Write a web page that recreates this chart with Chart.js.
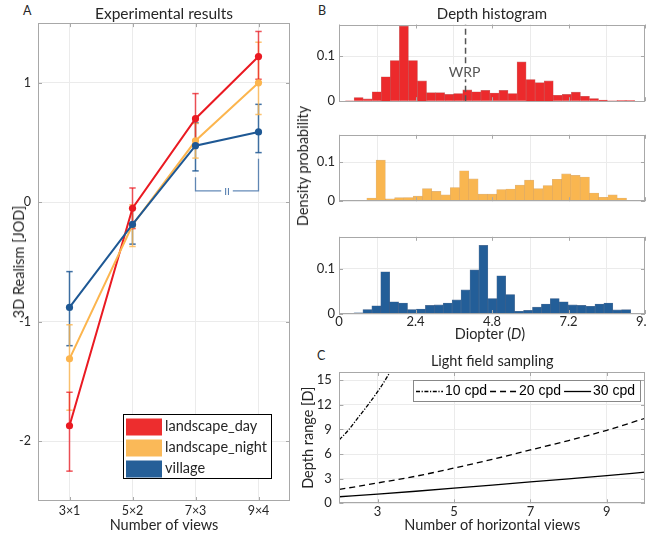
<!DOCTYPE html>
<html><head><meta charset="utf-8">
<script src="https://cdn.jsdelivr.net/npm/chart.js@4.4.0/dist/chart.umd.min.js"></script>
<style>
html,body{margin:0;padding:0;background:#fff;width:647px;height:539px;overflow:hidden;position:relative;}
canvas{position:absolute;}
.lab{position:absolute;font:12.5px Lato,sans-serif;line-height:12.5px;color:#262626;}
.rot{position:absolute;white-space:nowrap;font:14.5px Lato,sans-serif;line-height:16px;color:#262626;transform:translate(-50%,-50%) rotate(-90deg);}
</style></head><body>
<div class="lab" style="left:23px;top:5px">A</div>
<div class="lab" style="left:318px;top:5px">B</div>
<div class="lab" style="left:317px;top:350px">C</div>
<canvas id="cA" width="300" height="539" style="left:0;top:0"></canvas>
<canvas id="cB1" width="368" height="113" style="left:292px;top:0"></canvas>
<canvas id="cB2" width="368" height="90" style="left:292px;top:123px"></canvas>
<canvas id="cB3" width="368" height="125" style="left:292px;top:225px"></canvas>
<canvas id="cC" width="368" height="194" style="left:292px;top:345px"></canvas>
<div class="rot" style="left:303px;top:166px">Density probability</div>
<div class="rot" style="left:18.5px;top:262px">3D Realism [JOD]</div>
<script>
// ---------------- Panel A data ----------------
const viewLabels = ['3×1', '5×2', '7×3', '9×4'];
const viewPos = [1, 2, 3, 4];
const seriesNames = ['landscape_day', 'landscape_night', 'village'];
const dayMean = [-1.87, -0.05, 0.70, 1.22];
const dayLow = [-2.25, -0.22, 0.49, 1.03];
const dayHigh = [-1.59, 0.12, 0.91, 1.43];
const nightMean = [-1.31, -0.19, 0.515, 1.00];
const nightLow = [-1.74, -0.37, 0.37, 0.735];
const nightHigh = [-1.025, -0.02, 0.66, 1.34];
const villageMean = [-0.88, -0.185, 0.474, 0.589];
const villageLow = [-1.20, -0.35, 0.263, 0.416];
const villageHigh = [-0.58, -0.05, 0.665, 0.82];
const realismTicks = [-2, -1, 0, 1];
const bracketX = [3, 3, 4, 4];
const bracketY = [0.21, 0.095, 0.095, 0.365];
const bracketText = 'II';

// ---------------- Panel B data ----------------
const diopterTicks = [0, 2.4, 4.8, 7.2, 9.6];
const densityTicks = [0, 0.1];
const dayBins = [0.332,0.616,0.900,1.184,1.468,1.752,2.036,2.320,2.604,2.888,3.172,3.456,3.740,4.024,4.308,4.592,4.876,5.160,5.444,5.728,6.012,6.296,6.580,6.864,7.148,7.432,7.716,8.000,8.284,8.568,8.852,9.136];
const dayDensity = [0.001,0.008,0.005,0.021,0.054,0.090,0.166,0.090,0.045,0.019,0.019,0.015,0.017,0.025,0.021,0.024,0.018,0.024,0.017,0.087,0.048,0.041,0.045,0.013,0.015,0.020,0.011,0.006,0.0025,0.001,0.0015,0.0015];
const nightBins = [0.436,0.727,1.018,1.309,1.600,1.891,2.182,2.473,2.764,3.055,3.346,3.637,3.928,4.219,4.510,4.801,5.092,5.383,5.674,5.965,6.256,6.547,6.838,7.129,7.420,7.711,8.002,8.293,8.584,8.875,9.166,9.457];
const nightDensity = [0.002,0.002,0.008,0.105,0.006,0.009,0.0095,0.013,0.032,0.025,0.016,0.035,0.078,0.057,0.018,0.018,0.030,0.031,0.041,0.054,0.032,0.040,0.056,0.070,0.066,0.062,0.021,0.010,0.016,0.008,0.0025,0.0025];
const villageBins = [0.33,0.61,0.89,1.17,1.45,1.73,2.01,2.29,2.57,2.85,3.13,3.41,3.69,3.97,4.25,4.53,4.81,5.09,5.37,5.65,5.93,6.21,6.49,6.77,7.05,7.33,7.61,7.89,8.17,8.45,8.73,9.01];
const villageDensity = [0.0006,0.0025,0.010,0.018,0.093,0.027,0.024,0.010,0.011,0.019,0.020,0.024,0.031,0.053,0.097,0.151,0.034,0.084,0.043,0.006,0.008,0.015,0.022,0.034,0.027,0.020,0.019,0.017,0.022,0.024,0.009,0.0095];
const wrpDiopter = 3.97;
const wrpLabelDensity = 0.064;

// ---------------- Panel C data ----------------
const viewsTicks = [3, 5, 7, 9];
const rangeTicks = [0, 3, 6, 9, 12, 15];
const cpdNames = ['10 cpd', '20 cpd', '30 cpd'];
const views10 = [2, 2.25, 2.5, 2.75, 3, 3.25, 3.5];
const range10 = [7.75, 9.0, 10.5, 12.0, 13.6, 15.4, 17.5];
const viewsH = [2, 3, 4, 5, 6, 7, 8, 9, 10];
const range20 = [1.69, 2.48, 3.3, 4.29, 5.35, 6.5, 7.65, 8.9, 10.36];
const range30 = [0.8, 1.12, 1.47, 1.84, 2.22, 2.6, 2.98, 3.37, 3.8];

// ---------------- styles ----------------
const GRID = '#ebebeb', FRAME = '#a8a8a8', TXT = '#262626';
const lineCols = ['rgb(234,26,34)', 'rgb(252,181,78)', 'rgb(30,88,148)'];
const errCols = ['rgba(234,26,34,0.75)', 'rgba(252,181,78,0.8)', 'rgba(30,88,148,0.85)'];
const swatchCols = ['rgb(237,45,46)', 'rgb(250,185,88)', 'rgb(37,95,152)'];
const FONT = 'Lato, sans-serif';
Chart.defaults.font.family = FONT;
Chart.defaults.color = TXT;
Chart.defaults.animation = false;
Chart.defaults.events = [];
Chart.defaults.plugins.legend.display = false;
Chart.defaults.plugins.tooltip.enabled = false;

const framePlugin = {
  id: 'frame',
  afterDatasetsDraw(chart) {
    const {ctx, chartArea: a, scales} = chart;
    ctx.save();
    ctx.strokeStyle = FRAME; ctx.lineWidth = 1;
    ctx.strokeRect(Math.round(a.left) + 0.5, Math.round(a.top) + 0.5, Math.round(a.right - a.left) - 1, Math.round(a.bottom - a.top) - 1);
    ctx.beginPath();
    const L = 4;
    scales.x.ticks.forEach(t => {
      const p = Math.round(scales.x.getPixelForValue(t.value)) + 0.5;
      ctx.moveTo(p, a.bottom); ctx.lineTo(p, a.bottom - L);
      ctx.moveTo(p, a.top); ctx.lineTo(p, a.top + L);
    });
    scales.y.ticks.forEach(t => {
      const p = Math.round(scales.y.getPixelForValue(t.value)) + 0.5;
      ctx.moveTo(a.left, p); ctx.lineTo(a.left + L, p);
      ctx.moveTo(a.right, p); ctx.lineTo(a.right - L, p);
    });
    ctx.stroke();
    ctx.restore();
  }
};
Chart.register(framePlugin);

function axis(min, max, ticks, o) {
  const ax = {
    type: 'linear', min, max, offset: false,
    afterBuildTicks: s => { s.ticks = ticks.map(v => ({value: v})); },
    grid: {color: GRID, drawTicks: false},
    border: {display: false},
    ticks: {font: {size: o.size || 13}, padding: o.pad || 0, display: o.labels !== false,
            callback: o.cb || (v => String(v)), maxRotation: 0, autoSkip: false},
  };
  if (o.title) ax.title = {display: true, text: o.title, font: {size: o.tsize || 14}, padding: o.tpad, color: TXT};
  if (o.w !== undefined) ax.afterFit = s => { s.width = o.w; };
  if (o.h !== undefined) ax.afterFit = s => { s.height = o.h; };
  return ax;
}

// ---------------- Panel A ----------------
function meanSet(i, mean, order) {
  return {type: 'line', label: seriesNames[i], data: viewPos.map((x, k) => ({x, y: mean[k]})),
    borderColor: lineCols[i], backgroundColor: lineCols[i], borderWidth: 2,
    pointRadius: 3.6, pointBorderWidth: 0, pointBackgroundColor: lineCols[i], order};
}
function errSet(i, lo, hi) {
  const data = [];
  viewPos.forEach((x, k) => { data.push({x, y: lo[k]}, {x, y: hi[k]}, {x, y: null}); });
  return {type: 'line', data, borderColor: errCols[i], borderWidth: 1.5, spanGaps: false,
    pointStyle: 'line', pointRadius: 3.2, pointBorderColor: errCols[i], pointBorderWidth: 1.5, order: 10};
}
const legendA = {
  id: 'legendA',
  afterDatasetsDraw(chart) {
    const {ctx, scales: {x, y}} = chart;
    ctx.save();
    const bx = x.getPixelForValue((bracketX[1] + bracketX[2]) / 2), by = y.getPixelForValue(bracketY[1]);
    ctx.font = '10px ' + FONT;
    const bw = ctx.measureText(bracketText).width + 6;
    ctx.fillStyle = '#fff'; ctx.fillRect(bx - bw / 2, by - 5, bw, 10);
    ctx.fillStyle = 'rgba(50,100,160,0.9)'; ctx.textAlign = 'center'; ctx.textBaseline = 'middle';
    ctx.fillText(bracketText, bx, by + 0.5);
    const a = chart.chartArea;
    const w = 148, h = 64;
    const left = Math.round(a.right - 19 - w), top = Math.round(a.bottom - 23 - h);
    ctx.fillStyle = '#fff'; ctx.fillRect(left, top, w, h);
    ctx.strokeStyle = '#000'; ctx.lineWidth = 1; ctx.strokeRect(left + 0.5, top + 0.5, w, h);
    ctx.font = '14.5px ' + FONT; ctx.textAlign = 'left';
    seriesNames.forEach((n, i) => {
      const cy = top + 12.5 + i * 21;
      ctx.fillStyle = swatchCols[i]; ctx.fillRect(left + 3, cy - 8, 36, 17);
      ctx.fillStyle = TXT; ctx.fillText(n, left + 42, cy);
    });
    ctx.restore();
  }
};
new Chart(document.getElementById('cA'), {
  type: 'line',
  data: {datasets: [
    meanSet(2, villageMean, 1), meanSet(1, nightMean, 2), meanSet(0, dayMean, 3),
    errSet(0, dayLow, dayHigh), errSet(1, nightLow, nightHigh), errSet(2, villageLow, villageHigh),
    {type: 'line', data: bracketX.map((x, k) => ({x, y: bracketY[k]})), borderColor: 'rgba(50,100,160,0.75)',
     borderWidth: 1.3, pointRadius: 0, order: 11}
  ]},
  options: {
    responsive: false, devicePixelRatio: 1,
    layout: {padding: {left: 0, right: 10, top: 0, bottom: 0}},
    plugins: {title: {display: true, text: 'Experimental results', fullSize: false, color: TXT,
      font: {size: 15.5, weight: 'normal'}, padding: {top: 4.5, bottom: 0}}},
    scales: {
      x: axis(0.5, 4.5, viewPos, {size: 12.5, pad: 2.5, cb: (v, i) => viewLabels[i], title: 'Number of views', tsize: 14.5, tpad: {top: 0, bottom: 5}, h: 38}),
      y: axis(-2.5, 1.5, realismTicks, {size: 12.5, pad: 7, w: 38}),
    }
  },
  plugins: [legendA]
});

// ---------------- Panel B ----------------
const wrpLabel = {
  id: 'wrpLabel',
  afterDatasetsDraw(chart) {
    const {ctx, scales: {x, y}} = chart;
    const px = x.getPixelForValue(wrpDiopter), py = y.getPixelForValue(wrpLabelDensity);
    ctx.save();
    ctx.font = '14px ' + FONT;
    const w = ctx.measureText('WRP').width + 2;
    ctx.fillStyle = '#fff'; ctx.fillRect(px - w / 2 - 1, py - 8, w, 15);
    ctx.fillStyle = '#555'; ctx.textAlign = 'center'; ctx.textBaseline = 'middle';
    ctx.fillText('WRP', px - 1, py);
    ctx.restore();
  }
};
const diopterTitle = {
  id: 'diopterTitle',
  afterDraw(chart) {
    const {ctx, chartArea: a} = chart;
    ctx.save();
    ctx.fillStyle = TXT; ctx.textBaseline = 'middle'; ctx.textAlign = 'left';
    const parts = [['Diopter (', 'normal'], ['D', 'italic'], [')', 'normal']];
    const widths = parts.map(p => { ctx.font = p[1] + ' 14.5px ' + FONT; return ctx.measureText(p[0]).width; });
    let x = (a.left + a.right) / 2 - widths.reduce((s, v) => s + v, 0) / 2 - 2;
    const yy = a.bottom + 20.5;
    parts.forEach((p, i) => { ctx.font = p[1] + ' 14.5px ' + FONT; ctx.fillText(p[0], x, yy); x += widths[i]; });
    ctx.restore();
  }
};
function hist(id, bins, dens, fill, edge, o) {
  const datasets = [{type: 'bar', data: bins.map((x, k) => ({x, y: dens[k]})), backgroundColor: fill,
    borderColor: edge, borderWidth: 0.6, barPercentage: 1, categoryPercentage: 1, order: 2}];
  if (o.wrp) datasets.push({type: 'line', data: [{x: wrpDiopter, y: 0}, {x: wrpDiopter, y: 0.17}],
    borderColor: '#555', borderWidth: 1.5, borderDash: [6, 3.5], pointRadius: 0, order: 1});
  return new Chart(document.getElementById(id), {
    type: 'bar',
    data: {datasets},
    options: {
      responsive: false, devicePixelRatio: 1,
      layout: {padding: {left: 0, right: 15, top: 0, bottom: 0}},
      plugins: {title: o.title ? {display: true, text: o.title, fullSize: false, color: TXT,
        font: {size: 15, weight: 'normal'}, padding: {top: 5, bottom: 1.5}} : {display: false}},
      scales: {
        x: axis(0, 9.6, diopterTicks, {size: 13, pad: 0, labels: !!o.xlabels, h: o.xlabels ? 36 : 0}),
        y: axis(0, 0.17, densityTicks, {size: 13, pad: 4, w: 47}),
      }
    },
    plugins: o.plugins || []
  });
}
hist('cB1', dayBins, dayDensity, 'rgb(236,42,44)', 'rgba(170,20,20,0.6)', {title: 'Depth histogram', wrp: true, plugins: [wrpLabel]});
hist('cB2', nightBins, nightDensity, 'rgb(249,182,80)', 'rgba(200,130,40,0.6)', {});
hist('cB3', villageBins, villageDensity, 'rgb(35,94,152)', 'rgba(20,60,110,0.7)', {xlabels: true, plugins: [diopterTitle]});

// ---------------- Panel C ----------------
const cpdDash = [[4, 1.6, 1.2, 1.6], [6, 4], []];
const legendC = {
  id: 'legendC',
  afterDatasetsDraw(chart) {
    const {ctx, chartArea: a} = chart;
    ctx.save();
    const w = 227, h = 21;
    const left = Math.round(a.right - 5 - w), top = Math.round(a.top + 8);
    ctx.fillStyle = '#fff'; ctx.fillRect(left, top, w, h);
    ctx.strokeStyle = '#888'; ctx.lineWidth = 1; ctx.strokeRect(left + 0.5, top + 0.5, w, h);
    ctx.font = '14px "Liberation Sans", Arial, sans-serif'; ctx.textBaseline = 'middle'; ctx.textAlign = 'left';
    let x = left + 3;
    const cy = top + h / 2 + 1;
    cpdNames.forEach((n, i) => {
      ctx.strokeStyle = '#000'; ctx.lineWidth = 1.3; ctx.setLineDash(cpdDash[i]);
      ctx.beginPath(); ctx.moveTo(x, cy); ctx.lineTo(x + 27, cy); ctx.stroke();
      ctx.setLineDash([]);
      x += 29;
      ctx.fillStyle = '#000'; ctx.fillText(n, x, cy);
      x += ctx.measureText(n).width + 3;
    });
    ctx.restore();
  }
};
function cpdSet(xs, ys, i) {
  return {type: 'line', data: xs.map((x, k) => ({x, y: ys[k]})), borderColor: '#000', borderWidth: 1.3,
    borderDash: cpdDash[i], pointRadius: 0, cubicInterpolationMode: 'monotone'};
}
new Chart(document.getElementById('cC'), {
  type: 'line',
  data: {datasets: [cpdSet(views10, range10, 0), cpdSet(viewsH, range20, 1), cpdSet(viewsH, range30, 2)]},
  options: {
    responsive: false, devicePixelRatio: 1,
    layout: {padding: {left: 0, right: 15, top: 0, bottom: 0}},
    plugins: {title: {display: true, text: 'Light field sampling', fullSize: false, color: TXT,
      font: {size: 14.5, weight: 'normal'}, padding: {top: 7.2, bottom: 2.4}}},
    scales: {
      x: axis(2, 10, viewsTicks, {size: 13, pad: 1.2, title: 'Number of horizontal views', tsize: 14.5, tpad: {top: 0, bottom: 5}, h: 35.7}),
      y: axis(0, 16, rangeTicks, {size: 13, pad: 7.5, title: 'Depth range [D]', tsize: 14.5, tpad: {top: 8, bottom: 0}, w: 47.4}),
    }
  },
  plugins: [legendC]
});
</script>
</body></html>
